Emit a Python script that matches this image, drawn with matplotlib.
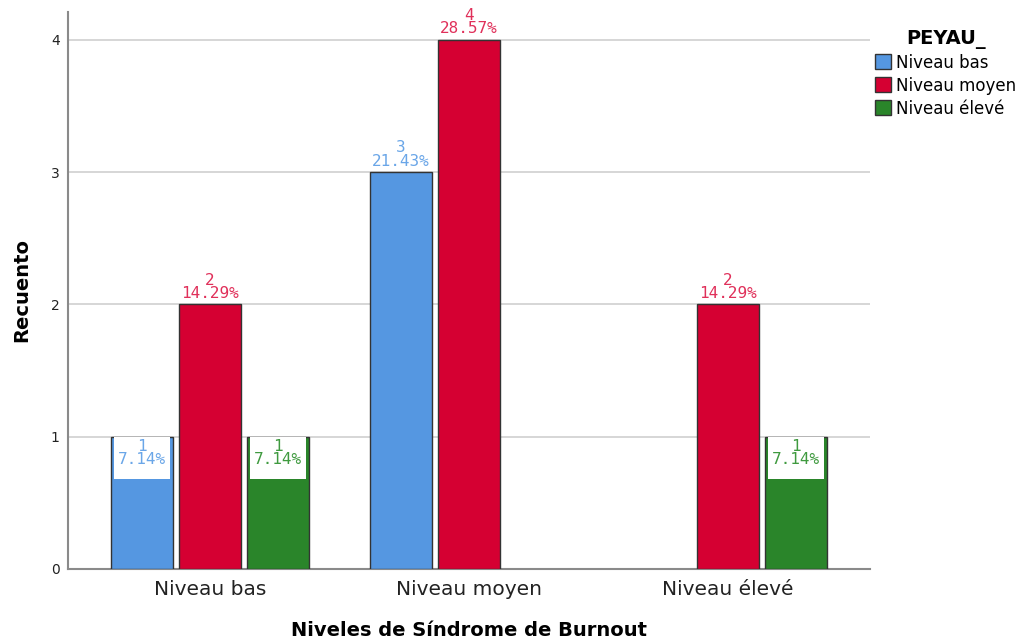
import matplotlib
matplotlib.use("Agg")
import matplotlib.pyplot as plt
from matplotlib.patches import Rectangle, Patch
import numpy as np

categories = ["Niveau bas", "Niveau moyen", "Niveau élevé"]
series_names = ["Niveau bas", "Niveau moyen", "Niveau élevé"]
counts = [
    [1, 3, 0],   # Niveau bas
    [2, 4, 2],   # Niveau moyen
    [1, 0, 1],   # Niveau élevé
]
percents = [
    ["7.14%", "21.43%", ""],
    ["14.29%", "28.57%", "14.29%"],
    ["7.14%", "", "7.14%"],
]
bar_colors = ["#5597e1", "#d50032", "#2a852a"]
text_colors = ["#6aa6e8", "#e0305a", "#3f9a3f"]
yticks = [0, 1, 2, 3, 4]

W, H = 1023, 642
fig = plt.figure(figsize=(W / 100, H / 100), dpi=100)
ax = fig.add_axes([68 / W, (H - 569) / H, 802 / W, (569 - 12) / H])

x = np.arange(len(categories))
width = 0.239
offsets = [-0.263, 0.0, 0.263]
font = "DejaVu Sans"
mono = "DejaVu Sans Mono"
lab_size = 11.5

for i, name in enumerate(series_names):
    for j in range(len(categories)):
        v = counts[i][j]
        if v == 0:
            continue
        xc = x[j] + offsets[i]
        ax.bar(xc, v, width=width, color=bar_colors[i], edgecolor="#333333",
               linewidth=1.0, zorder=3)
        label = f"{v}\n{percents[i][j]}"
        if v == 1:
            ax.add_patch(Rectangle((xc - width / 2 + 0.012, v - 0.32),
                                   width - 0.024, 0.315, facecolor="white",
                                   edgecolor="none", zorder=4))
            ax.text(xc, v - 0.015, label, ha="center", va="top",
                    color=text_colors[i], fontsize=lab_size, family=mono,
                    linespacing=0.85, zorder=5)
        else:
            ax.annotate(label, (xc, v), xytext=(0, 2.5), textcoords="offset points",
                        ha="center", va="bottom", color=text_colors[i],
                        fontsize=lab_size, family=mono, linespacing=0.85,
                        zorder=5, annotation_clip=False)

ax.set_xlim(-0.548, 2.548)
ax.set_ylim(0, 4.21)
ax.set_yticks(yticks)
ax.set_yticklabels([str(t) for t in yticks], fontsize=10, family=font, color="#222222")
ax.set_xticks(x)
ax.set_xticklabels(categories, fontsize=14.5, family=font, color="#222222")
ax.tick_params(axis="both", length=0, pad=6)
ax.tick_params(axis="x", pad=8)
ax.grid(axis="y", color="#cfcfcf", linewidth=1.2, zorder=0)
ax.set_axisbelow(True)
for s in ["top", "right"]:
    ax.spines[s].set_visible(False)
for s in ["left", "bottom"]:
    ax.spines[s].set_color("#8a8a8a")
    ax.spines[s].set_linewidth(1.5)

ax.set_ylabel("Recuento", fontsize=14, fontweight="bold", family=font, labelpad=14)
ax.set_xlabel("Niveles de Síndrome de Burnout", fontsize=14, fontweight="bold",
              family=font, labelpad=16)

handles = [Patch(facecolor=c, edgecolor="#333333", linewidth=1.0) for c in bar_colors]
leg = fig.legend(handles, series_names, title="PEYAU_", loc="upper left",
                 bbox_to_anchor=(863 / W, 1 - 17 / H), frameon=False,
                 prop={"family": font, "size": 12},
                 title_fontproperties={"family": font, "weight": "bold", "size": 14},
                 handlelength=1.0, handleheight=1.0, handletextpad=0.3,
                 labelspacing=0.3, borderpad=0.2)

fig.savefig("out.png", dpi=100)
